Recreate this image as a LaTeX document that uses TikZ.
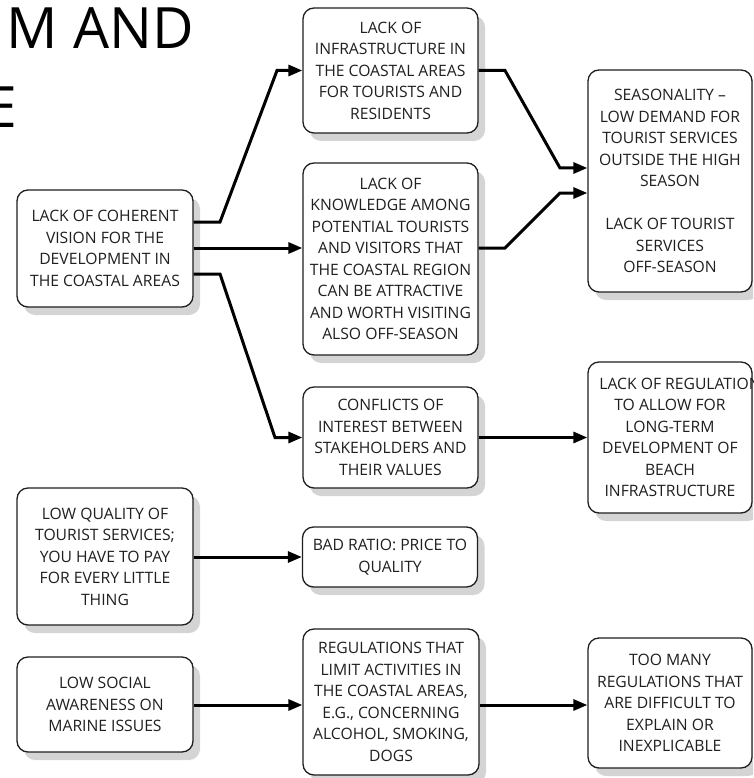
\documentclass[tikz,border=0pt]{standalone}
\usepackage{fontspec}
\setmainfont{Open Sans}
\usetikzlibrary{arrows.meta,shadows}
\begin{document}
\begin{tikzpicture}[x=1pt,y=-1pt,
  box/.style={draw=black!88, line width=1.3pt, rounded corners=11pt, fill=white,
    align=center, inner sep=0pt, text=black!88,
    font=\fontsize{15.7}{21.5}\selectfont,
    drop shadow={shadow xshift=7pt, shadow yshift=-8pt, fill=black!17, opacity=1}},
  conn/.style={line width=3pt, draw=black, -{Triangle[length=14pt,width=11pt]}},
  titletext/.style={anchor=base east, inner sep=0pt, font=\fontsize{57}{57}\selectfont, text=black}
]
\useasboundingbox (0,0) rectangle (753,778);
\clip (0,0) rectangle (753,778);

\node[titletext] (t1) at (194,49) {M AND};
\node[titletext] (t2) at (17,128) {E};

\node[box, minimum width=176pt, minimum height=117pt] (A) at (105,248.5)
  {LACK OF COHERENT\\VISION FOR THE\\DEVELOPMENT IN\\THE COASTAL AREAS};
\node[box, minimum width=175pt, minimum height=125pt] (B) at (390.5,70.5)
  {LACK OF\\INFRASTRUCTURE IN\\THE COASTAL AREAS\\FOR TOURISTS AND\\RESIDENTS};
\node[box, minimum width=175pt, minimum height=192pt] (C) at (390.5,259)
  {LACK OF\\KNOWLEDGE AMONG\\POTENTIAL TOURISTS\\AND VISITORS THAT\\THE COASTAL REGION\\CAN BE ATTRACTIVE\\AND WORTH VISITING\\ALSO OFF-SEASON};
\node[box, minimum width=175pt, minimum height=101pt] (D) at (390.5,437.5)
  {CONFLICTS OF\\INTEREST BETWEEN\\STAKEHOLDERS AND\\THEIR VALUES};
\node[box, minimum width=164pt, minimum height=222pt] (E) at (670,181)
  {SEASONALITY --\\LOW DEMAND FOR\\TOURIST SERVICES\\OUTSIDE THE HIGH\\SEASON\\[21.5pt]LACK OF TOURIST\\SERVICES\\OFF-SEASON};
\node[box, minimum width=164pt, minimum height=151pt] (F) at (670,437.5)
  {\makebox[0pt][c]{\hspace{20pt}LACK OF REGULATION}\\TO ALLOW FOR\\LONG-TERM\\DEVELOPMENT OF\\BEACH\\INFRASTRUCTURE};
\node[box, minimum width=176pt, minimum height=137pt] (G) at (105,556.5)
  {LOW QUALITY OF\\TOURIST SERVICES;\\YOU HAVE TO PAY\\FOR EVERY LITTLE\\THING};
\node[box, minimum width=175pt, minimum height=60pt] (H) at (390,557)
  {BAD RATIO: PRICE TO\\QUALITY};
\node[box, minimum width=176pt, minimum height=95pt] (I) at (105,704.5)
  {LOW SOCIAL\\AWARENESS ON\\MARINE ISSUES};
\node[box, minimum width=176pt, minimum height=146pt] (J) at (391,702)
  {REGULATIONS THAT\\LIMIT ACTIVITIES IN\\THE COASTAL AREAS,\\E.G., CONCERNING\\ALCOHOL, SMOKING,\\DOGS};
\node[box, minimum width=164pt, minimum height=130pt] (K) at (670,703)
  {TOO MANY\\REGULATIONS THAT\\ARE DIFFICULT TO\\EXPLAIN OR\\INEXPLICABLE};

\draw[conn] (A.east |- 0,222) -- (220,222) -- (277,70.5) -- (B.west);
\draw[conn] (A.east |- 0,248) -- (C.west |- 0,248);
\draw[conn] (A.east |- 0,274) -- (220,274) -- (275,437.5) -- (D.west);
\draw[conn] (B.east) -- (505,70.5) -- (560,168) -- (E.west |- 0,168);
\draw[conn] (C.east |- 0,248) -- (505,248) -- (560,193) -- (E.west |- 0,193);
\draw[conn] (D.east) -- (F.west);
\draw[conn] (G.east |- 0,557) -- (H.west);
\draw[conn] (I.east |- 0,705) -- (J.west |- 0,705);
\draw[conn] (J.east |- 0,705) -- (K.west |- 0,705);
\end{tikzpicture}
\end{document}
